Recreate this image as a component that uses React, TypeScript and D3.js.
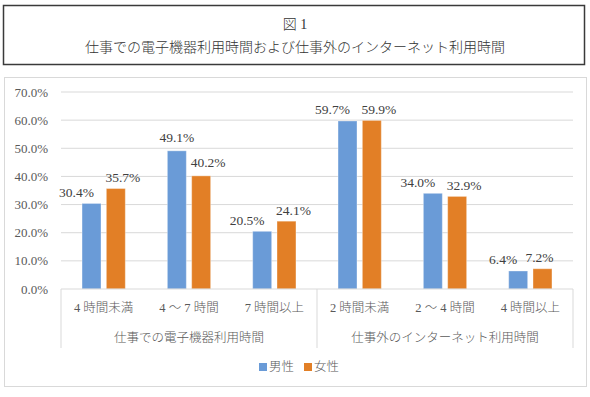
import React from "react";
import * as d3 from "d3";

// categories and values (percent)
const groups = ["仕事での電子機器利用時間", "仕事外のインターネット利用時間"];
const categories = ["4時間未満", "4～7時間", "7時間以上", "2時間未満", "2～4時間", "4時間以上"];
const catLabels = ["4 時間未満", "4 ～ 7 時間", "7 時間以上", "2 時間未満", "2 ～ 4 時間", "4 時間以上"];
const categoryGroup = [0, 0, 0, 1, 1, 1];
const series = ["男性", "女性"];
const male = [30.4, 49.1, 20.5, 59.7, 34.0, 6.4];
const female = [35.7, 40.2, 24.1, 59.9, 32.9, 7.2];
const yTicks = [0, 10, 20, 30, 40, 50, 60, 70];

const colors = ["#6a9bd7", "#e27f26"];
const serif = "'Liberation Serif', 'DejaVu Serif', 'Noto Sans CJK JP', serif";

const W = 590;
const H = 397;
const margin = { left: 61, right: 17, top: 92, zero: 289 };

export default function App() {
  const x0 = d3
    .scaleBand<string>()
    .domain(categories)
    .range([margin.left, W - margin.right]);
  const x1 = d3
    .scaleBand<string>()
    .domain(series)
    .range([0, x0.bandwidth()])
    .paddingInner(0.22)
    .paddingOuter(0.865);
  const y = d3.scaleLinear().domain([0, 70]).range([margin.zero, margin.top]);

  const values = [male, female];
  const fmt = (v: number) => v.toFixed(1) + "%";

  // split each category into its group span
  const groupSpans = groups.map((g, gi) => {
    const cats = categories.filter((_, i) => categoryGroup[i] === gi);
    const a = x0(cats[0])!;
    const b = x0(cats[cats.length - 1])! + x0.bandwidth();
    return { name: g, a, b };
  });

  return (
    <svg width={W} height={H} style={{ position: "absolute", left: 0, top: 0 }} fontFamily={serif}>
      <rect x={0} y={0} width={W} height={H} fill="#fff" />
      {/* title box */}
      <rect x={3.5} y={5.5} width={581} height={59} fill="#fff" stroke="#3a3a3a" strokeWidth={1.5} />
      <text x={W / 2} y={24} textAnchor="middle" dominantBaseline="central" fontSize={14} fontWeight={300} fill="#333">
        図 1
      </text>
      <text x={W / 2} y={47} textAnchor="middle" dominantBaseline="central" fontSize={14} fontWeight={300} fill="#333">
        仕事での電子機器利用時間および仕事外のインターネット利用時間
      </text>

      {/* chart area border */}
      <rect x={4.5} y={77.5} width={582} height={309} fill="#fff" stroke="#d9d9d9" strokeWidth={1} />

      {/* gridlines + y axis */}
      {yTicks.map((t) => (
        <g key={t}>
          {t > 0 && (
            <line x1={margin.left} x2={W - margin.right} y1={y(t)} y2={y(t)} stroke="#d9d9d9" strokeWidth={1} />
          )}
          <text x={48} y={y(t)} textAnchor="end" dominantBaseline="central" fontSize={13} fill="#595959">
            {t.toFixed(1) + "%"}
          </text>
        </g>
      ))}

      {/* bars */}
      {categories.map((c, i) =>
        series.map((s, si) => {
          const v = values[si][i];
          const bx = x0(c)! + x1(s)!;
          return (
            <rect
              key={c + s}
              x={bx}
              y={y(v)}
              width={x1.bandwidth()}
              height={y(0) - y(v)}
              fill={colors[si]}
              stroke="#fff"
              strokeOpacity={0.35}
              strokeWidth={1}
            />
          );
        })
      )}

      {/* data labels */}
      {categories.map((c, i) =>
        series.map((s, si) => {
          const v = values[si][i];
          const close = Math.abs(male[i] - female[i]) < 7;
          const shift = si === 0 ? (close ? -15 : 0) : v < 10 ? -3 : 7;
          const cx = x0(c)! + x1(s)! + x1.bandwidth() / 2 + shift;
          return (
            <text
              key={"l" + c + s}
              x={cx}
              y={y(v) - (close ? 11 : 13)}
              textAnchor="middle"
              dominantBaseline="central"
              fontSize={13.5}
              fill="#404040"
            >
              {fmt(v)}
            </text>
          );
        })
      )}

      {/* category axis */}
      <line x1={margin.left} x2={W - margin.right} y1={y(0)} y2={y(0)} stroke="#d9d9d9" strokeWidth={1} />
      {[groupSpans[0].a, groupSpans[0].b, groupSpans[1].b].map((gx, i) => (
        <line key={i} x1={gx} x2={gx} y1={y(0)} y2={348} stroke="#d9d9d9" strokeWidth={1} />
      ))}
      {categories.map((c, i) => (
        <text
          key={"c" + c}
          x={x0(c)! + x0.bandwidth() / 2}
          y={308}
          textAnchor="middle"
          dominantBaseline="central"
          fontSize={12.5}
          fontWeight={300}
          fill="#595959"
        >
          {catLabels[i]}
        </text>
      ))}
      {groupSpans.map((g) => (
        <text
          key={g.name}
          x={(g.a + g.b) / 2}
          y={338}
          textAnchor="middle"
          dominantBaseline="central"
          fontSize={12.5}
          fontWeight={300}
          fill="#595959"
        >
          {g.name}
        </text>
      ))}

      {/* legend */}
      {series.map((s, si) => {
        const lx = si === 0 ? 259 : 304;
        return (
          <g key={"lg" + s}>
            <rect x={lx} y={363} width={8} height={8} fill={colors[si]} />
            <text x={lx + 10} y={367} dominantBaseline="central" fontSize={12.5} fontWeight={300} fill="#595959">
              {s}
            </text>
          </g>
        );
      })}
    </svg>
  );
}
